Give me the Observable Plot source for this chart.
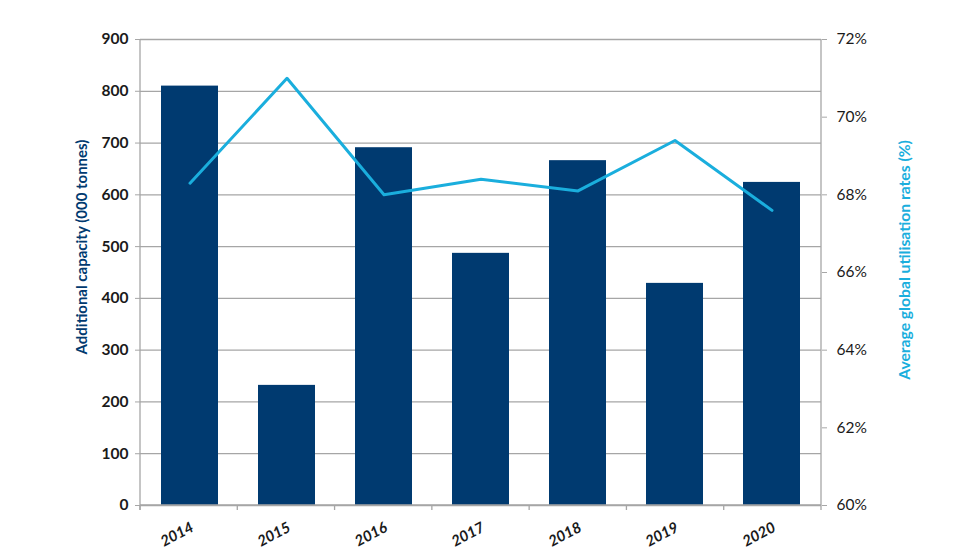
<!DOCTYPE html>
<html>
<head>
<meta charset="utf-8">
<script src="https://cdn.jsdelivr.net/npm/d3@7"></script>
<script src="https://cdn.jsdelivr.net/npm/@observablehq/plot@0.6"></script>
<style>
  html, body { margin: 0; padding: 0; background: #fff; }
  #chart svg { display: block; }
</style>
</head>
<body>
<div id="chart"></div>
<script>
const years = ["2014", "2015", "2016", "2017", "2018", "2019", "2020"];
const capacity = [810, 232, 691, 487, 666, 429, 624];
const utilisation = [68.3, 71.0, 68.0, 68.4, 68.1, 69.4, 67.6];
const leftTicks = [0, 100, 200, 300, 400, 500, 600, 700, 800, 900];
const rightTicks = [60, 62, 64, 66, 68, 70, 72];
const leftTitle = "Additional capacity (000 tonnes)";
const rightTitle = "Average global utilisation rates (%)";

const W = 980, H = 560;
const mL = 140, mR = 159, mT = 39, mB = 55;
const rMin = 60, rMax = 72, lMax = 900;
const toLeft = p => (p - rMin) / (rMax - rMin) * lMax;
const fromLeft = v => rMin + v / lMax * (rMax - rMin);

const data = years.map((y, i) => ({year: y, capacity: capacity[i], util: utilisation[i]}));

const navy = "#003a70";
const cyan = "#1aaedd";
const gray = "#a6a6a6";
const font = "Lato, 'Open Sans', sans-serif";

const chart = Plot.plot({
  width: W, height: H,
  marginLeft: mL, marginRight: mR, marginTop: mT, marginBottom: mB,
  style: {fontFamily: font, background: "#fff"},
  x: {type: "band", domain: years, paddingInner: 0.41, paddingOuter: 0.205, axis: null},
  y: {domain: [0, lMax], axis: null},
  marks: [
    Plot.gridY(leftTicks, {stroke: gray, strokeOpacity: 1, strokeWidth: 1.3}),
    Plot.barY(data, {x: "year", y: "capacity", fill: navy}),
    Plot.line(data, {x: "year", y: d => toLeft(d.util), stroke: cyan, strokeWidth: 3}),
    Plot.axisY(leftTicks, {anchor: "left", tickSize: 5, tickPadding: 7, stroke: gray,
      fill: "#1a1a1a", fontSize: 15.5, fontWeight: "bold", label: null}),
    Plot.axisY(rightTicks.map(toLeft), {anchor: "right", tickSize: 5, tickPadding: 10, stroke: gray,
      fill: "#1a1a1a", fontSize: 15.5, label: null,
      tickFormat: d => Math.round(fromLeft(d)) + "%"}),
    Plot.text(years, {x: d => d, y: 0, text: d => d, rotate: -28, textAnchor: "middle",
      dy: 29, dx: -13, fontWeight: "bold", fontStyle: "italic", fontSize: 15, fill: "#1a1a1a"})
  ]
});

document.getElementById("chart").appendChild(chart);

// axis lines and category boundary ticks from the plot's scales
const svg = d3.select(chart);
const xs = chart.scale("x");
const ys = chart.scale("y");
const y0 = ys.apply(0), yTop = ys.apply(lMax);
const xLeft = xs.range[0], xRight = xs.range[1];
const g = svg.append("g").attr("stroke", gray).attr("stroke-width", 1.3);
g.append("line").attr("x1", xLeft).attr("x2", xLeft).attr("y1", yTop).attr("y2", y0 + 5);
g.append("line").attr("x1", xRight).attr("x2", xRight).attr("y1", yTop).attr("y2", y0 + 5);
g.append("line").attr("x1", xLeft).attr("x2", xRight).attr("y1", y0).attr("y2", y0);
years.forEach((yr, i) => {
  const bx = xLeft + i * (xRight - xLeft) / years.length;
  g.append("line").attr("x1", bx).attr("x2", bx).attr("y1", y0).attr("y2", y0 + 5);
});

svg.append("text")
  .attr("transform", `translate(83,247) rotate(-90)`)
  .attr("text-anchor", "middle").attr("dominant-baseline", "middle")
  .attr("font-family", font).attr("font-size", 15).attr("font-weight", "bold")
  .attr("fill", navy).text(leftTitle);
svg.append("text")
  .attr("transform", `translate(906,260) rotate(-90)`)
  .attr("text-anchor", "middle").attr("dominant-baseline", "middle")
  .attr("font-family", font).attr("font-size", 15.7).attr("font-weight", "bold")
  .attr("fill", cyan).text(rightTitle);
</script>
</body>
</html>
